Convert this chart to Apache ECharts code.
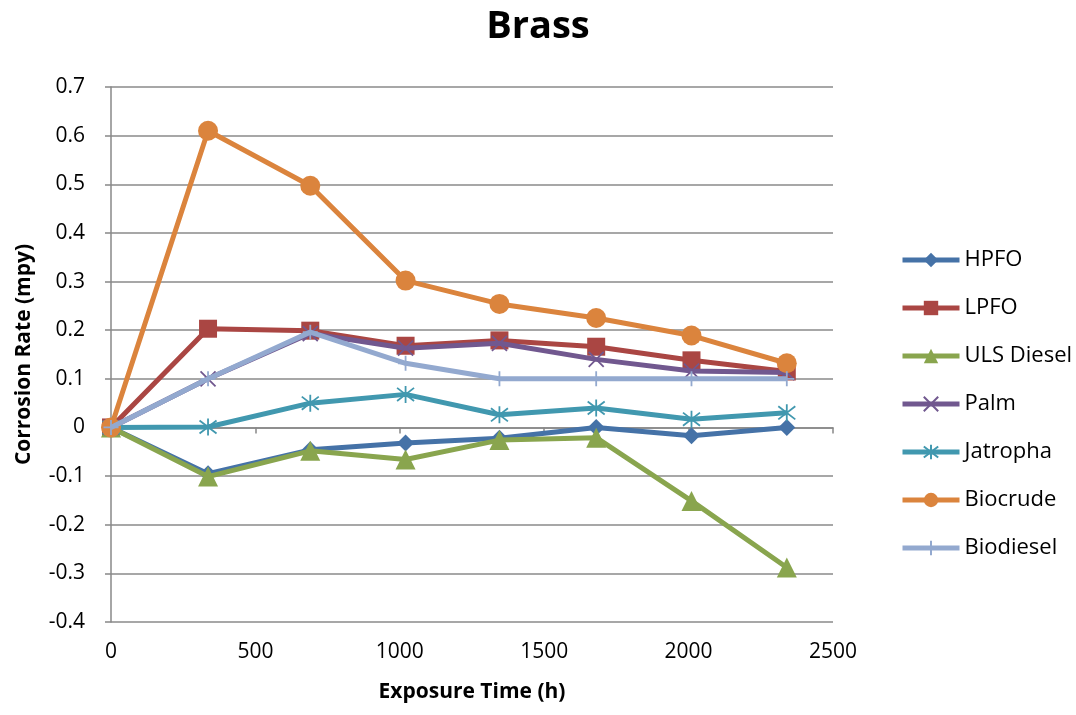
<!DOCTYPE html>
<html><head><meta charset="utf-8">
<script src="https://cdn.jsdelivr.net/npm/echarts@6/dist/echarts.min.js"></script>
<style>html,body{margin:0;padding:0;background:#fff}#c{width:1076px;height:715px}</style>
</head><body><div id="c"></div>
<script>
const hours = [0, 336, 690, 1020, 1345, 1680, 2010, 2340];
const seriesNames = ["HPFO", "LPFO", "ULS Diesel", "Palm", "Jatropha", "Biocrude", "Biodiesel"];
const hpfo = [0, -0.095, -0.046, -0.032, -0.022, 0, -0.017, 0];
const lpfo = [0, 0.203, 0.199, 0.168, 0.179, 0.166, 0.138, 0.115];
const ulsDiesel = [0, -0.101, -0.048, -0.066, -0.026, -0.021, -0.151, -0.288];
const palm = [0, 0.1, 0.193, 0.163, 0.173, 0.14, 0.116, 0.113];
const jatropha = [0, 0.001, 0.05, 0.068, 0.026, 0.04, 0.017, 0.03];
const biocrude = [0, 0.61, 0.497, 0.302, 0.254, 0.225, 0.189, 0.132];
const biodiesel = [0, 0.1, 0.196, 0.132, 0.1, 0.1, 0.1, 0.1];
const yTicks = [-0.4, -0.3, -0.2, -0.1, 0, 0.1, 0.2, 0.3, 0.4, 0.5, 0.6, 0.7];
const xTicks = [0, 500, 1000, 1500, 2000, 2500];

const values = [hpfo, lpfo, ulsDiesel, palm, jatropha, biocrude, biodiesel];
const colors = ["#4572A7", "#AA4643", "#89A54E", "#71588F", "#4198AF", "#DB843D", "#93A9CF"];
const symbols = [
  "diamond", "rect", "triangle",
  "path://M0,0L10,10M10,0L0,10",
  "path://M0,0L10,10M10,0L0,10M5,-1.5L5,11.5",
  "circle",
  "path://M5,0L5,10M0,5L10,5"
];
const sizes = [17, 18, 20, 15, 17, 20, 15];
const FONT = "'Open Sans', 'Noto Sans', sans-serif";

const chart = echarts.init(document.getElementById('c'), null, {renderer: 'canvas'});
chart.setOption({
  animation: false,
  backgroundColor: '#fff',
  title: {text: 'Brass', left: 'center', top: 3, textStyle: {fontFamily: FONT, fontSize: 38, fontWeight: 'bold', color: '#000'}},
  grid: {left: 111, right: 243, top: 87, bottom: 93},
  legend: {
    orient: 'vertical', left: 895, top: 244, itemGap: 26, itemWidth: 57, itemHeight: 18,
    textStyle: {fontFamily: FONT, fontSize: 22, color: '#000'},
    lineStyle: {width: 5},
    data: seriesNames
  },
  xAxis: {
    type: 'value', min: 0, max: 2500, interval: 500,
    name: 'Exposure Time (h)', nameLocation: 'middle', nameGap: 60,
    nameTextStyle: {fontFamily: FONT, fontSize: 21, fontWeight: 'bold', color: '#000'},
    axisLine: {lineStyle: {color: '#888', width: 1.5}},
    axisTick: {show: true, length: 6, lineStyle: {color: '#888', width: 1.5}},
    axisLabel: {fontFamily: FONT, fontSize: 21, color: '#000', margin: 20,
      formatter: v => { const t = xTicks.find(x => Math.abs(x - v) < 1e-6); return String(t === undefined ? v : t); }},
    splitLine: {show: false}
  },
  yAxis: {
    type: 'value', min: -0.4, max: 0.7, interval: 0.1,
    name: 'Corrosion Rate (mpy)', nameLocation: 'middle', nameGap: 76,
    nameTextStyle: {fontFamily: FONT, fontSize: 21, fontWeight: 'bold', color: '#000'},
    axisLine: {show: true, onZero: false, lineStyle: {color: '#888', width: 1.5}},
    axisTick: {show: true, length: 6, lineStyle: {color: '#888', width: 1.5}},
    axisLabel: {fontFamily: FONT, fontSize: 21, color: '#000', margin: 26,
      formatter: v => { const r = Math.round(v * 10) / 10; const t = yTicks.find(x => Math.abs(x - r) < 1e-9); return String(t === undefined ? r : t); }},
    splitLine: {show: true, lineStyle: {color: '#8a8a8a', width: 1.5}}
  },
  series: seriesNames.map((n, i) => ({
    name: n, type: 'line',
    data: hours.map((h, j) => [h, values[i][j]]),
    symbol: symbols[i], symbolSize: sizes[i], showAllSymbol: true,
    lineStyle: {color: colors[i], width: 5},
    itemStyle: {color: colors[i], borderColor: colors[i], borderWidth: (i === 3 || i === 4 || i === 6) ? 1.8 : 0, opacity: 1},
    z: 2 + i
  }))
});
</script></body></html>
